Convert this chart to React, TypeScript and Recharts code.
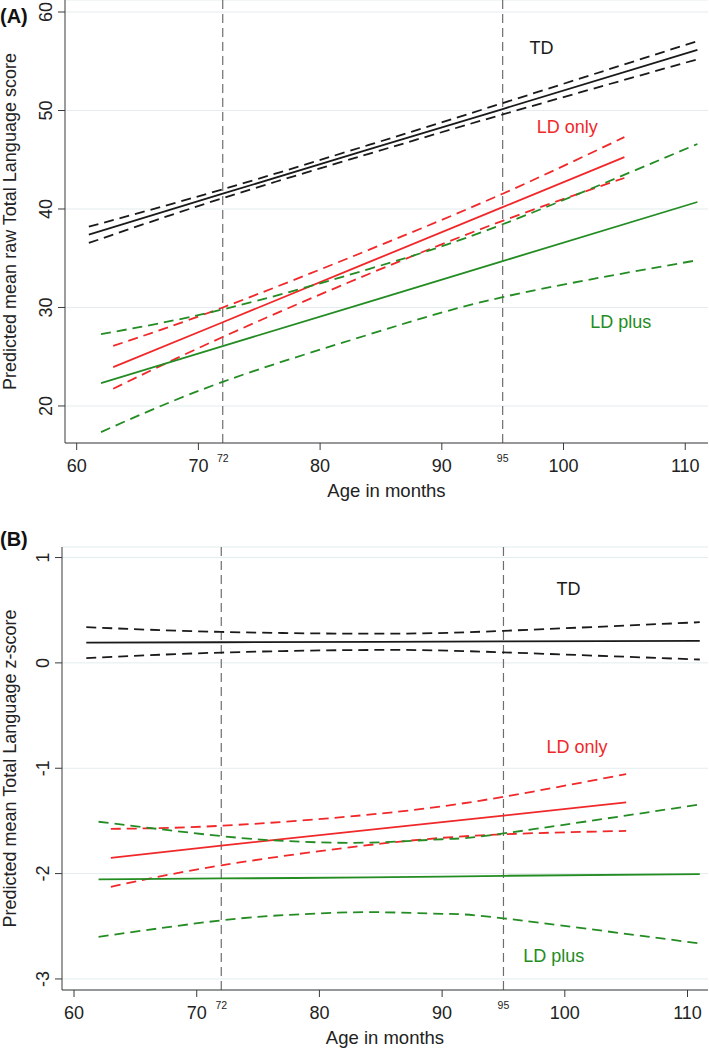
import React from 'react'
import {
  LineChart,
  Line,
  XAxis,
  YAxis,
  CartesianGrid,
  ReferenceLine,
  ReferenceDot,
} from 'recharts'

// ---- Panel A: predicted mean raw Total Language score ----
const tdAgeA = [61, 72, 84, 95, 111]
const tdFitA = [37.4, 41.55, 46.05, 50.15, 56.15]
const tdHiA = [38.2, 42.0, 46.5, 50.75, 57.05]
const tdLoA = [36.55, 41.1, 45.6, 49.6, 55.2]

const onlyAgeA = [63, 72, 84, 95, 105]
const onlyFitA = [23.94, 28.5, 34.6, 40.19, 45.27]
const onlyHiA = [26.1, 30.0, 35.85, 41.55, 47.3]
const onlyLoA = [21.75, 27.0, 33.4, 38.8, 43.15]

const plusAgeA = [62, 72, 84, 95, 111]
const plusFitA = [22.33, 26.08, 30.58, 34.71, 40.71]
const plusHiA = [27.3, 29.8, 33.9, 38.45, 46.6]
const plusLoA = [17.35, 22.45, 27.25, 31.05, 34.8]

// ---- Panel B: predicted mean Total Language z-score ----
const tdAgeB = [61, 72, 85, 95, 111]
const tdFitB = [0.193, 0.196, 0.2, 0.204, 0.209]
const tdHiB = [0.339, 0.294, 0.277, 0.304, 0.386]
const tdLoB = [0.045, 0.098, 0.123, 0.1, 0.032]

const onlyAgeB = [63, 72, 85, 95, 105]
const onlyFitB = [-1.85, -1.735, -1.573, -1.449, -1.325]
const onlyHiB = [-1.575, -1.546, -1.43, -1.271, -1.055]
const onlyLoB = [-2.125, -1.922, -1.716, -1.627, -1.595]

const plusAgeB = [62, 72, 78, 84, 90, 95, 111]
const plusFitB = [-2.055, -2.046, -2.042, -2.036, -2.028, -2.021, -2.005]
const plusHiB = [-1.508, -1.644, -1.695, -1.706, -1.674, -1.619, -1.344]
const plusLoB = [-2.6, -2.444, -2.389, -2.366, -2.382, -2.425, -2.663]

const ageTicks = [60, 70, 72, 80, 90, 95, 100, 110]
const cutoffs = [72, 95]
const scoreTicksA = [20, 30, 40, 50, 60]
const scoreTicksB = [-3, -2, -1, 0, 1]

const FONT = '"Liberation Sans", Arial, Helvetica, sans-serif'
const BLACK = '#1a1a1a'
const RED = '#f0282a'
const GREEN = '#238c23'
const AXIS = '#3a3a3a'

const pts = (xs: number[], ys: number[]) => xs.map((x, i) => ({ age: x, v: ys[i] }))

const XTick = ({ x, y, payload }: any) => {
  const v = payload.value
  if (cutoffs.includes(v)) {
    return (
      <text x={x} y={y + 19} textAnchor="middle" fontSize={10.5} fill="#222" fontFamily={FONT}>
        {v}
      </text>
    )
  }
  return (
    <g>
      <line x1={x} x2={x} y1={y} y2={y + 7} stroke={AXIS} />
      <text x={x} y={y + 29} textAnchor="middle" fontSize={18} fill="#222" fontFamily={FONT}>
        {v}
      </text>
    </g>
  )
}

const YTick = ({ x, y, payload }: any) => (
  <g>
    <line x1={x - 7} x2={x} y1={y} y2={y} stroke={AXIS} />
    <text
      x={x - 19}
      y={y}
      transform={`rotate(-90 ${x - 19} ${y})`}
      textAnchor="middle"
      dominantBaseline="central"
      fontSize={18}
      fill="#222"
      fontFamily={FONT}
    >
      {payload.value}
    </text>
  </g>
)

const groupLabel = (text: string, color: string) => (p: any) => (
  <text
    x={p.cx}
    y={p.cy}
    textAnchor="middle"
    dominantBaseline="central"
    fontSize={18}
    fill={color}
    fontFamily={FONT}
  >
    {text}
  </text>
)

const xTitle = (p: any) => {
  const vb = p.viewBox || {}
  return (
    <text x={vb.x + vb.width / 2} y={vb.y + 54} textAnchor="middle" fontSize={18.5} fill="#222" fontFamily={FONT}>
      Age in months
    </text>
  )
}

const yTitle = (text: string) => (p: any) => {
  const vb = p.viewBox || {}
  const cx = 10
  const cy = vb.y + vb.height / 2
  return (
    <text
      x={cx}
      y={cy}
      transform={`rotate(-90 ${cx} ${cy})`}
      textAnchor="middle"
      dominantBaseline="central"
      fontSize={18}
      fill="#222"
      fontFamily={FONT}
    >
      {text}
    </text>
  )
}

type Group = {
  age: number[]
  fit: number[]
  hi: number[]
  lo: number[]
  color: string
  name: string
}

function bands(groups: Group[]) {
  return groups.flatMap((g) => [
    <Line
      key={g.name + '-hi'}
      data={pts(g.age, g.hi)}
      dataKey="v"
      type="natural"
      stroke={g.color}
      strokeWidth={1.8}
      strokeDasharray="10 6"
      dot={false}
      activeDot={false}
      isAnimationActive={false}
    />,
    <Line
      key={g.name + '-fit'}
      data={pts(g.age, g.fit)}
      dataKey="v"
      type="linear"
      stroke={g.color}
      strokeWidth={1.8}
      dot={false}
      activeDot={false}
      isAnimationActive={false}
    />,
    <Line
      key={g.name + '-lo'}
      data={pts(g.age, g.lo)}
      dataKey="v"
      type="natural"
      stroke={g.color}
      strokeWidth={1.8}
      strokeDasharray="10 6"
      dot={false}
      activeDot={false}
      isAnimationActive={false}
    />,
  ])
}

const groupsA: Group[] = [
  { name: 'td', age: tdAgeA, fit: tdFitA, hi: tdHiA, lo: tdLoA, color: BLACK },
  { name: 'only', age: onlyAgeA, fit: onlyFitA, hi: onlyHiA, lo: onlyLoA, color: RED },
  { name: 'plus', age: plusAgeA, fit: plusFitA, hi: plusHiA, lo: plusLoA, color: GREEN },
]

const groupsB: Group[] = [
  { name: 'td', age: tdAgeB, fit: tdFitB, hi: tdHiB, lo: tdLoB, color: BLACK },
  { name: 'only', age: onlyAgeB, fit: onlyFitB, hi: onlyHiB, lo: onlyLoB, color: RED },
  { name: 'plus', age: plusAgeB, fit: plusFitB, hi: plusHiB, lo: plusLoB, color: GREEN },
]

export default function App() {
  return (
    <div style={{ position: 'absolute', left: 0, top: 0, width: 709, height: 1050, background: '#fff' }}>
      <div style={{ position: 'absolute', left: 0, top: 0 }}>
        <LineChart width={709} height={520} margin={{ top: 0, right: 1, bottom: 0, left: 0 }}>
          <CartesianGrid horizontal vertical={false} stroke="#e3ecee" />
          <XAxis
            type="number"
            dataKey="age"
            domain={[59.04, 111.87]}
            allowDataOverflow
            ticks={ageTicks}
            interval={0}
            tick={<XTick />}
            tickSize={0}
            tickMargin={0}
            tickLine={false}
            axisLine={{ stroke: AXIS }}
            height={77}
            label={xTitle}
          />
          <YAxis
            type="number"
            domain={[16.24, 61.22]}
            allowDataOverflow
            ticks={scoreTicksA}
            interval={0}
            tick={<YTick />}
            tickSize={0}
            tickMargin={0}
            tickLine={false}
            axisLine={{ stroke: AXIS }}
            width={65}
            label={yTitle('Predicted mean raw Total Language score')}
          />
          {cutoffs.map((c) => (
            <ReferenceLine key={c} x={c} stroke="#6e6e6e" strokeWidth={1.2} strokeDasharray="9 5" />
          ))}
          {bands(groupsA)}
          <ReferenceDot x={98.2} y={56.3} r={0} ifOverflow="visible" shape={groupLabel('TD', BLACK)} />
          <ReferenceDot x={100.3} y={48.3} r={0} ifOverflow="visible" shape={groupLabel('LD only', RED)} />
          <ReferenceDot x={104.7} y={28.5} r={0} ifOverflow="visible" shape={groupLabel('LD plus', GREEN)} />
        </LineChart>
      </div>
      <div style={{ position: 'absolute', left: 0, top: 520 }}>
        <LineChart width={709} height={530} margin={{ top: 27, right: 1, bottom: 0, left: 0 }}>
          <CartesianGrid horizontal vertical={false} stroke="#e3ecee" />
          <XAxis
            type="number"
            dataKey="age"
            domain={[59.02, 111.67]}
            allowDataOverflow
            ticks={ageTicks}
            interval={0}
            tick={<XTick />}
            tickSize={0}
            tickMargin={0}
            tickLine={false}
            axisLine={{ stroke: AXIS }}
            height={60}
            label={xTitle}
          />
          <YAxis
            type="number"
            domain={[-3.105, 1.1]}
            allowDataOverflow
            ticks={scoreTicksB}
            interval={0}
            tick={<YTick />}
            tickSize={0}
            tickMargin={0}
            tickLine={false}
            axisLine={{ stroke: AXIS }}
            width={62}
            label={yTitle('Predicted mean Total Language z-score')}
          />
          {cutoffs.map((c) => (
            <ReferenceLine key={c} x={c} stroke="#6e6e6e" strokeWidth={1.2} strokeDasharray="9 5" />
          ))}
          {bands(groupsB)}
          <ReferenceDot x={100.3} y={0.706} r={0} ifOverflow="visible" shape={groupLabel('TD', BLACK)} />
          <ReferenceDot x={101.0} y={-0.797} r={0} ifOverflow="visible" shape={groupLabel('LD only', RED)} />
          <ReferenceDot x={99.1} y={-2.783} r={0} ifOverflow="visible" shape={groupLabel('LD plus', GREEN)} />
        </LineChart>
      </div>
      <svg width={709} height={1050} style={{ position: 'absolute', left: 0, top: 0, pointerEvents: 'none' }}>
        <text x={0} y={23} fontSize={20} fontWeight="bold" fill="#111" fontFamily={FONT}>
          (A)
        </text>
        <text x={0} y={546} fontSize={20} fontWeight="bold" fill="#111" fontFamily={FONT}>
          (B)
        </text>
      </svg>
    </div>
  )
}
